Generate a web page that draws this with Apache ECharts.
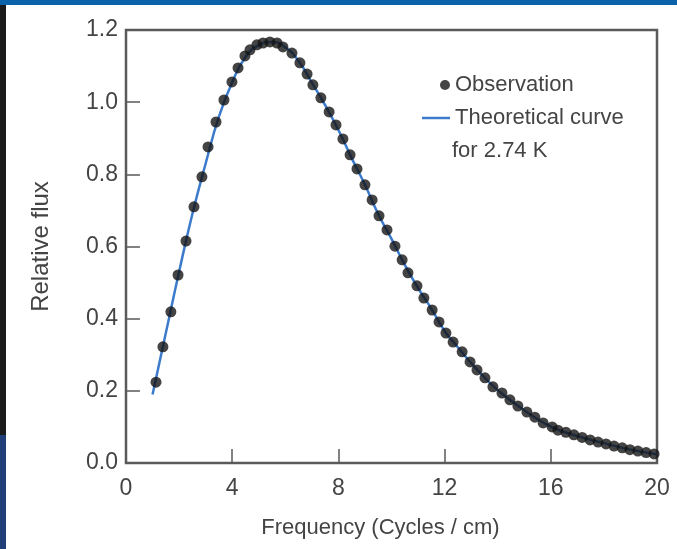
<!DOCTYPE html>
<html>
<head>
<meta charset="utf-8">
<script src="https://cdn.jsdelivr.net/npm/echarts@6/dist/echarts.min.js"></script>
<style>
html,body{margin:0;padding:0;background:#fff;}
#chart{width:677px;height:549px;}
</style>
</head>
<body>
<div id="chart"></div>
<script>
// Observation points (frequency in cycles/cm, relative flux)
var obsX = [1.13,1.39,1.69,1.96,2.26,2.56,2.86,3.09,3.39,3.69,3.99,4.22,4.48,4.67,4.93,5.16,5.42,5.69,5.91,6.25,
            6.55,6.82,7.04,7.34,7.65,7.91,8.17,8.44,8.70,9.00,9.27,9.53,9.83,10.13,10.40,10.62,10.96,11.22,11.53,11.79,
            12.05,12.32,12.66,12.96,13.22,13.52,13.82,14.16,14.46,14.76,15.10,15.40,15.71,16.05,16.27,16.57,16.87,17.18,17.48,17.78,
            18.08,18.38,18.69,18.98,19.28,19.59,19.89];
var obsY = [0.224,0.322,0.419,0.521,0.615,0.710,0.793,0.876,0.945,1.006,1.056,1.095,1.128,1.145,1.159,1.164,1.167,1.164,1.153,1.136,
            1.109,1.078,1.048,1.012,0.973,0.937,0.898,0.854,0.815,0.771,0.729,0.685,0.646,0.601,0.563,0.527,0.491,0.457,0.424,0.391,
            0.360,0.335,0.308,0.280,0.258,0.236,0.211,0.194,0.175,0.158,0.141,0.127,0.111,0.100,0.091,0.085,0.078,0.071,0.064,0.058,
            0.053,0.047,0.042,0.037,0.033,0.029,0.025];

// Theoretical curve for 2.74 K
var theoryX = [1.0,1.5,2.0,2.5,3.0,3.5,4.0,4.5,5.0,5.5,6.0,6.5,7.0,7.5,8.0,8.5,9.0,9.5,10.0,10.5,
               11.0,11.5,12.0,12.5,13.0,13.5,14.0,15.0,16.0,17.0,18.0,19.0,20.0];
var theoryY = [0.19,0.36,0.53,0.69,0.83,0.96,1.055,1.125,1.158,1.167,1.152,1.114,1.054,0.992,0.923,0.845,0.771,0.690,0.621,0.549,
               0.485,0.428,0.366,0.321,0.277,0.237,0.202,0.146,0.101,0.075,0.055,0.037,0.024];

var xTicks = {min:0, max:20, interval:4};
var yTicks = {min:0, max:1.2, interval:0.2};

var obsData = obsX.map(function(x,i){return [x, obsY[i]];});
var theoryData = theoryX.map(function(x,i){return [x, theoryY[i]];});

var chart = echarts.init(document.getElementById('chart'), null, {renderer:'canvas'});
var font = '"Liberation Sans", Arial, sans-serif';
var axisCol = '#5a5a5a';
var txtCol = '#444';
var TL = 7; // tick length (ticks point into the plot)
function tick(){ return {show:true, inside:false, length:TL, lineStyle:{color:axisCol, width:1.5}}; }

chart.setOption({
  backgroundColor:'#fff',
  animation:false,
  grid:{left:126, right:20, top:30, bottom:86, show:true, borderColor:axisCol, borderWidth:2.5, backgroundColor:'transparent'},
  legend:[
    {data:['Observation'], orient:'vertical', left:435, top:69, itemWidth:10, itemHeight:10,
     textStyle:{fontFamily:font, fontSize:22, color:txtCol}},
    {data:[{name:'Theoretical curve', icon:'rect'}], orient:'vertical', left:417, top:102, itemWidth:28, itemHeight:2.5,
     textStyle:{fontFamily:font, fontSize:22, color:txtCol}}
  ],
  graphic:[
    {type:'rect', left:0, top:0, shape:{width:677, height:5}, style:{fill:'#0c62aa'}},
    {type:'rect', left:0, top:5, shape:{width:6, height:430}, style:{fill:'#1a1a1a'}},
    {type:'rect', left:0, top:435, shape:{width:6, height:114}, style:{fill:'#203f78'}},
    {type:'text', left:452, top:140, style:{text:'for 2.74 K', font:'22px "Liberation Sans", Arial, sans-serif', fill:txtCol}}
  ],
  xAxis:[
    {type:'value', position:'bottom', offset:-TL, min:xTicks.min, max:xTicks.max, interval:xTicks.interval,
     name:'Frequency (Cycles / cm)', nameLocation:'middle', nameGap:54+TL,
     nameTextStyle:{fontFamily:font, fontSize:22, color:txtCol, padding:[0,22,0,0]},
     axisLine:{show:false},
     axisTick:tick(),
     axisLabel:{fontFamily:font, fontSize:23, color:txtCol, margin:14+TL},
     splitLine:{show:false}},
    {type:'value', position:'top', offset:-TL, min:xTicks.min, max:xTicks.max, interval:xTicks.interval,
     axisLine:{show:false},
     axisTick:tick(),
     axisLabel:{show:false}, splitLine:{show:false}}
  ],
  yAxis:[
    {type:'value', position:'left', offset:-TL, min:yTicks.min, max:yTicks.max, interval:yTicks.interval,
     name:'Relative flux', nameLocation:'middle', nameGap:73+TL,
     nameTextStyle:{fontFamily:font, fontSize:24, color:txtCol},
     axisLine:{show:false},
     axisTick:tick(),
     axisLabel:{fontFamily:font, fontSize:23, color:txtCol, margin:8+TL,
                formatter:function(v){return v.toFixed(1);}},
     splitLine:{show:false}},
    {type:'value', position:'right', offset:-TL, min:yTicks.min, max:yTicks.max, interval:yTicks.interval,
     axisLine:{show:false},
     axisTick:tick(),
     axisLabel:{show:false}, splitLine:{show:false}}
  ],
  series:[
    {name:'Theoretical curve', type:'line', data:theoryData, smooth:true, showSymbol:false, symbol:'none',
     itemStyle:{color:'#3c7bcc'}, lineStyle:{color:'#3c7bcc', width:2.5}, z:2},
    {name:'Observation', type:'scatter', data:obsData, symbol:'circle', symbolSize:11,
     itemStyle:{color:'#151515'}, z:3}
  ]
});
</script>
</body>
</html>
